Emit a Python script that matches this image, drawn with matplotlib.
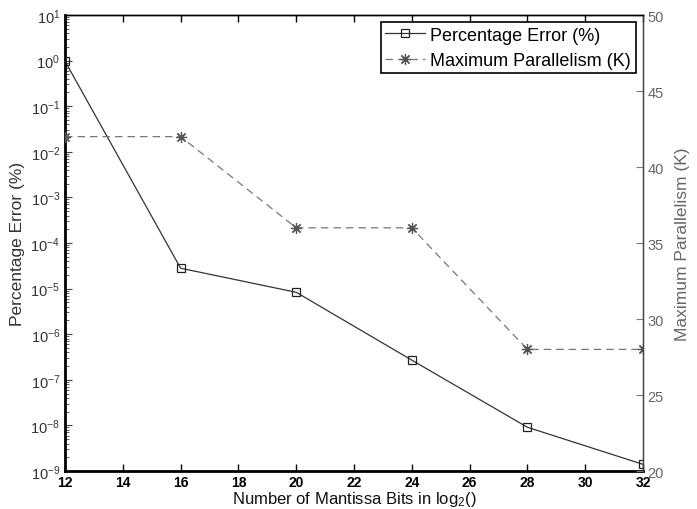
import matplotlib
matplotlib.use("Agg")
import matplotlib.pyplot as plt
from matplotlib.ticker import LogLocator, NullFormatter, FixedLocator

plt.rcParams['font.family'] = ['Liberation Sans', 'DejaVu Sans']
plt.rcParams['mathtext.fontset'] = 'custom'
plt.rcParams['mathtext.rm'] = 'Liberation Sans'
plt.rcParams['mathtext.it'] = 'Liberation Sans:italic'
plt.rcParams['mathtext.bf'] = 'Liberation Sans:bold'

mantissa_bits = [12, 16, 20, 24, 28, 32]
pct_error = [0.97, 2.8e-5, 8.3e-6, 2.7e-7, 9.1e-9, 1.4e-9]
max_parallelism = [42, 42, 36, 36, 28, 28]
x_ticks = [12, 14, 16, 18, 20, 22, 24, 26, 28, 30, 32]
right_ticks = [20, 25, 30, 35, 40, 45, 50]

fig = plt.figure(figsize=(6.97, 5.10), dpi=100)
ax = fig.add_axes([0.0933, 0.0745, 0.8292, 0.8941])
ax2 = ax.twinx()

l1, = ax.plot(mantissa_bits, pct_error, '-', color='#333333', lw=0.9,
              marker='s', mfc='none', mec='#222222', ms=6, mew=0.9,
              label='Percentage Error (%)')
l2, = ax2.plot(mantissa_bits, max_parallelism, '--', color='#777777', lw=0.9,
               dashes=(6, 4), marker=(8, 2, 0), ms=8, mec='#555555', mew=0.9,
               label='Maximum Parallelism (K)')

ax.set_yscale('log')
ax.set_ylim(1e-9, 1e1)
ax.set_xlim(12, 32)
ax.set_xticks(x_ticks)
ax.yaxis.set_major_locator(LogLocator(base=10, numticks=20))
ax.yaxis.set_minor_locator(LogLocator(base=10, subs=range(2, 10), numticks=100))
ax.yaxis.set_minor_formatter(NullFormatter())

ax2.set_ylim(20, 50)
ax2.yaxis.set_major_locator(FixedLocator(right_ticks))

# tick styling
ax.tick_params(axis='x', direction='in', top=True, length=5, width=1,
               labelsize=10, colors='black', pad=3)
for t in ax.get_xticklabels():
    t.set_fontweight('bold')
ax.tick_params(axis='y', which='major', direction='in', length=5, width=0.8,
               labelsize=10.5, labelcolor='#333333', color='#444444')
ax.tick_params(axis='y', which='minor', direction='in', length=3, width=0.6,
               color='#444444')
ax2.tick_params(axis='y', direction='in', length=5, width=0.8,
                labelsize=10.5, labelcolor='#666666', color='#777777', pad=3)

for s in ['left', 'bottom']:
    ax.spines[s].set_linewidth(2.0)
    ax.spines[s].set_color('black')
ax.spines['top'].set_linewidth(1.0)
ax2.spines['left'].set_visible(False)
ax2.spines['bottom'].set_visible(False)
ax2.spines['top'].set_linewidth(1.0)
ax2.spines['right'].set_color('#444444')
ax2.spines['right'].set_linewidth(1.0)

ax.set_xlabel('Number of Mantissa Bits in log$_2$()', fontsize=12, color='#111111', labelpad=0)
ax.set_ylabel('Percentage Error (%)', fontsize=12.5, color='#333333', labelpad=4)
ax2.set_ylabel('Maximum Parallelism (K)', fontsize=12.5, color='#666666', labelpad=8)

leg = ax2.legend(handles=[l1, l2], loc='upper right', fontsize=13,
                 fancybox=False, framealpha=1, edgecolor='black',
                 borderpad=0.25, handlelength=2.2, handletextpad=0.3,
                 labelspacing=0.45, borderaxespad=0.4)
leg.get_frame().set_linewidth(1.2)

fig.savefig('out.png', dpi=100)
